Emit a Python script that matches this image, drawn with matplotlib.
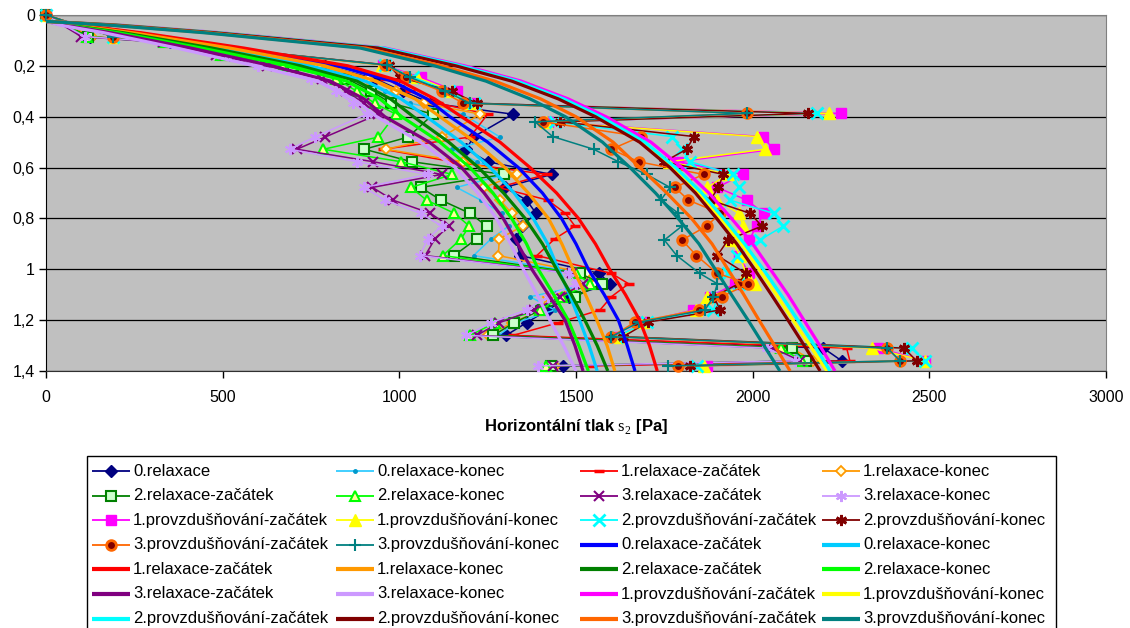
import matplotlib
matplotlib.use("Agg")
import matplotlib.pyplot as plt
from matplotlib.patches import Rectangle
from matplotlib.ticker import FuncFormatter, MultipleLocator

plt.rcParams['font.family'] = ['Liberation Sans', 'DejaVu Sans']
plt.rcParams['mathtext.fontset'] = 'custom'
plt.rcParams['mathtext.rm'] = 'Liberation Serif'

# ---- measured data (depth in m, pressure in Pa) ----
depth_relax = [0, 0.085, 0.108, 0.157, 0.2, 0.25, 0.3, 0.347, 0.39, 0.48, 0.528, 0.577, 0.627, 0.678,
               0.728, 0.78, 0.83, 0.88, 0.946, 1.016, 1.057, 1.108, 1.16, 1.21, 1.26, 1.31, 1.36, 1.38]
rel0 = [0, 125, 350, 520, 790, 930, 1010, 1090, 1321, 1209, 1190, 1250, 1431, 1299,
        1360, 1387, 1346, 1330, 1342, 1566, 1596, 1480, 1420, 1360, 1302, 2200, 2252, 1462]
rel0_konec = [0, 110, 340, 510, 730, 880, 960, 1030, 1180, 1285, 1150, 1220, 1300, 1162,
              1230, 1290, 1310, 1260, 1210, 1520, 1540, 1370, 1440, 1330, 1280, 2100, 2150, 1440]
rel1_zac = [0, 190, 360, 530, 820, 960, 1030, 1110, 1250, 1200, 955, 1150, 1417, 1280,
            1420, 1470, 1497, 1440, 1389, 1600, 1649, 1600, 1568, 1450, 1322, 2266, 2275, 1545]
rel1_konec = [0, 130, 345, 510, 770, 910, 990, 1070, 1229, 1120, 961, 1180, 1332, 1240,
              1285, 1318, 1349, 1283, 1280, 1530, 1555, 1420, 1400, 1320, 1250, 2110, 2171, 1440]
rel2_zac = [0, 120, 340, 500, 700, 850, 921, 977, 1096, 1025, 901, 1035, 1296, 1060,
            1118, 1200, 1247, 1219, 1155, 1511, 1573, 1497, 1400, 1325, 1266, 2111, 2150, 1430]
rel2_konec = [0, 115, 335, 495, 670, 820, 880, 930, 990, 941, 785, 1005, 1150, 1033,
              1077, 1156, 1198, 1175, 1123, 1500, 1540, 1460, 1398, 1271, 1200, 2080, 2140, 1414]
rel3_zac = [0, 100, 330, 480, 625, 780, 850, 900, 941, 790, 710, 926, 1120, 924,
            982, 1088, 1141, 1101, 1073, 1490, 1520, 1455, 1380, 1283, 1219, 2058, 2134, 1435]
rel3_konec = [0, 110, 351, 521, 600, 750, 820, 870, 908, 760, 690, 880, 1080, 900,
              960, 1060, 1120, 1080, 1059, 1480, 1500, 1420, 1360, 1260, 1190, 2040, 2120, 1393]

depth_prov = [0, 0.085, 0.197, 0.245, 0.3, 0.347, 0.387, 0.42, 0.478, 0.528, 0.577, 0.627, 0.678, 0.728,
              0.78, 0.83, 0.885, 0.946, 1.016, 1.057, 1.108, 1.16, 1.208, 1.265, 1.31, 1.36, 1.38]
prov1_zac = [0, 190, 955, 1060, 1162, 1200, 2249, 1422, 2028, 2059, 1790, 1972, 1900, 1983,
             2032, 2011, 1990, 1960, 1990, 1950, 1879, 1832, 1690, 1620, 2356, 2488, 1870]
prov1_konec = [0, 190, 950, 1049, 1150, 1200, 2217, 1415, 2011, 2035, 1764, 1930, 1872, 1900,
               1960, 1974, 1940, 1964, 1980, 2007, 1870, 1840, 1690, 1625, 2337, 2488, 1862]
prov2_zac = [0, 190, 960, 1040, 1140, 1210, 2181, 1440, 1771, 1800, 1823, 1945, 1960, 1936,
             2059, 2087, 2020, 1955, 1931, 1960, 1900, 1889, 1700, 1615, 2450, 2488, 1842]
prov2_konec = [0, 190, 970, 1002, 1148, 1219, 2158, 1455, 1834, 1813, 1750, 1917, 1903, 1880,
               1993, 2026, 1930, 1900, 1980, 1960, 1890, 1908, 1703, 1634, 2428, 2464, 1823]
prov3_zac = [0, 190, 960, 1020, 1120, 1181, 1983, 1407, 1683, 1600, 1677, 1861, 1780, 1818,
             1908, 1870, 1800, 1841, 1900, 1988, 1912, 1848, 1667, 1600, 2381, 2417, 1788]
prov3_konec = [0, 190, 965, 1030, 1130, 1200, 1983, 1384, 1434, 1550, 1620, 1700, 1766, 1740,
               1790, 1800, 1750, 1785, 1850, 1900, 1889, 1865, 1679, 1600, 2381, 2417, 1761]

# ---- fitted curves ----
depth_fit = [0.025, 0.04, 0.07, 0.13, 0.2, 0.26, 0.33, 0.4, 0.5, 0.6, 0.7, 0.8, 0.9, 1.0, 1.1, 1.2, 1.3, 1.4]
fit_rel0_zac = [0, 88, 258, 540, 825, 980, 1078, 1143, 1250, 1337, 1405, 1459, 1500, 1535, 1580, 1620, 1645, 1667]
fit_rel0_konec = [0, 70, 230, 490, 750, 905, 1005, 1077, 1175, 1257, 1325, 1379, 1420, 1450, 1482, 1510, 1537, 1560]
fit_rel1_zac = [0, 95, 270, 560, 855, 1003, 1100, 1176, 1285, 1370, 1445, 1507, 1555, 1595, 1640, 1680, 1708, 1730]
fit_rel1_konec = [0, 80, 245, 520, 790, 935, 1045, 1115, 1215, 1299, 1365, 1422, 1460, 1492, 1527, 1559, 1588, 1610]
fit_rel2_zac = [0, 65, 220, 470, 720, 880, 975, 1040, 1140, 1224, 1295, 1356, 1405, 1445, 1487, 1525, 1560, 1590]
fit_rel2_konec = [0, 60, 205, 440, 690, 850, 945, 1007, 1115, 1200, 1265, 1318, 1360, 1393, 1437, 1478, 1508, 1535]
fit_rel3_zac = [0, 50, 185, 410, 640, 805, 900, 959, 1085, 1176, 1240, 1294, 1335, 1375, 1422, 1469, 1497, 1520]
fit_rel3_konec = [0, 40, 165, 370, 590, 770, 870, 936, 1060, 1158, 1222, 1275, 1315, 1351, 1390, 1426, 1465, 1500]
fit_prov1_zac = [0, 210, 495, 960, 1185, 1345, 1478, 1585, 1712, 1800, 1876, 1940, 2000, 2050, 2100, 2145, 2190, 2233]
fit_prov1_konec = [0, 203, 485, 948, 1168, 1326, 1458, 1562, 1688, 1775, 1848, 1910, 1968, 2018, 2067, 2114, 2162, 2210]
fit_prov2_zac = [0, 205, 490, 955, 1175, 1333, 1465, 1570, 1695, 1782, 1856, 1918, 1977, 2030, 2080, 2128, 2175, 2219]
fit_prov2_konec = [0, 200, 480, 940, 1160, 1318, 1450, 1555, 1680, 1766, 1838, 1898, 1955, 2005, 2053, 2100, 2146, 2191]
fit_prov3_zac = [0, 185, 460, 905, 1120, 1270, 1400, 1500, 1605, 1681, 1757, 1827, 1885, 1930, 1975, 2018, 2062, 2106]
fit_prov3_konec = [0, 180, 450, 890, 1100, 1245, 1370, 1470, 1575, 1653, 1725, 1789, 1848, 1894, 1940, 1987, 2032, 2077]

measured = [
    ('0.relaxace', depth_relax, rel0, dict(color='#000080', marker='D', ms=6, mfc='#000080', mec='#000080')),
    ('0.relaxace-konec', depth_relax, rel0_konec, dict(color='#33CCFF', marker='o', ms=2.5, mfc='#0099CC', mec='#0099CC')),
    ('1.relaxace-začátek', depth_relax, rel1_zac, dict(color='#FF0000', marker='_', ms=7, mew=2.5, mec='#FF0000')),
    ('1.relaxace-konec', depth_relax, rel1_konec, dict(color='#FF9900', marker='D', ms=5.5, mfc='#FFFFE0', mec='#FF9900', mew=1.3)),
    ('2.relaxace-začátek', depth_relax, rel2_zac, dict(color='#008000', marker='s', ms=7, mfc='#CCFFCC', mec='#008000', mew=1.5)),
    ('2.relaxace-konec', depth_relax, rel2_konec, dict(color='#00FF00', marker='^', ms=7, mfc='#FFFF99', mec='#00FF00', mew=1.5)),
    ('3.relaxace-začátek', depth_relax, rel3_zac, dict(color='#800080', marker='x', ms=7, mew=1.5, mec='#800080')),
    ('3.relaxace-konec', depth_relax, rel3_konec, dict(color='#CC99FF', marker=(6, 2, 0), ms=8, mew=1.5, mec='#CC99FF')),
    ('1.provzdušňování-začátek', depth_prov, prov1_zac, dict(color='#FF00FF', marker='s', ms=7, mfc='#FF00FF', mec='#FF00FF')),
    ('1.provzdušňování-konec', depth_prov, prov1_konec, dict(color='#FFFF00', marker='^', ms=8, mfc='#FFFF00', mec='#FFFF00')),
    ('2.provzdušňování-začátek', depth_prov, prov2_zac, dict(color='#00FFFF', marker='x', ms=8, mew=2, mec='#00FFFF')),
    ('2.provzdušňování-konec', depth_prov, prov2_konec, dict(color='#800000', marker=(6, 2, 0), ms=8, mew=2, mec='#800000')),
    ('3.provzdušňování-začátek', depth_prov, prov3_zac, dict(color='#FF6600', marker='o', ms=7, mfc='#800000', mec='#FF6600', mew=2)),
    ('3.provzdušňování-konec', depth_prov, prov3_konec, dict(color='#008080', marker='+', ms=9, mew=1.5, mec='#008080')),
]

fits = [
    ('0.relaxace-začátek', fit_rel0_zac, '#0000FF'),
    ('0.relaxace-konec', fit_rel0_konec, '#00CCFF'),
    ('1.relaxace-začátek', fit_rel1_zac, '#FF0000'),
    ('1.relaxace-konec', fit_rel1_konec, '#FF9900'),
    ('2.relaxace-začátek', fit_rel2_zac, '#008000'),
    ('2.relaxace-konec', fit_rel2_konec, '#00FF00'),
    ('3.relaxace-začátek', fit_rel3_zac, '#800080'),
    ('3.relaxace-konec', fit_rel3_konec, '#CC99FF'),
    ('1.provzdušňování-začátek', fit_prov1_zac, '#FF00FF'),
    ('1.provzdušňování-konec', fit_prov1_konec, '#FFFF00'),
    ('2.provzdušňování-začátek', fit_prov2_zac, '#00FFFF'),
    ('2.provzdušňování-konec', fit_prov2_konec, '#800000'),
    ('3.provzdušňování-začátek', fit_prov3_zac, '#FF6600'),
    ('3.provzdušňování-konec', fit_prov3_konec, '#008080'),
]

W, H = 1130, 628
fig = plt.figure(figsize=(W / 100, H / 100), dpi=100)
ax = fig.add_axes([46 / W, 1 - 371 / H, 1060 / W, 356 / H])
ax.set_facecolor('#C0C0C0')

for name, d, x, st in measured:
    ax.plot(x, d, lw=1.1, clip_on=False, zorder=3, **st)
for name, x, c in fits:
    ax.plot(x, depth_fit, color=c, lw=2.3, zorder=4, solid_capstyle='butt')

ax.set_xlim(0, 3000)
ax.set_ylim(1.4, 0)
ax.xaxis.set_major_locator(MultipleLocator(500))
ax.yaxis.set_major_locator(MultipleLocator(0.2))
ax.yaxis.set_major_formatter(FuncFormatter(lambda v, p: format(round(v, 1), 'g').replace('.', ',')))
ax.grid(axis='y', color='black', lw=0.9, zorder=1)
ax.set_axisbelow(True)
ax.tick_params(axis='x', direction='out', length=5, width=1, pad=9, labelsize=11.5)
ax.tick_params(axis='y', direction='out', length=5, width=1, pad=3, labelsize=11.5)
for s in ['top', 'right']:
    ax.spines[s].set_color('#808080')
ax.spines['left'].set_color('black')
ax.spines['bottom'].set_color('#303030')
ax.set_xlabel(r'Horizontální tlak $\mathrm{s}_{2}$ [Pa]', fontsize=12, fontweight='bold', labelpad=8)

# legend laid out like the spreadsheet one: row-wise, 4 equal columns
lax = fig.add_axes([0, 0, 1, 1])
lax.set_xlim(0, W)
lax.set_ylim(H, 0)
lax.axis('off')
lax.add_patch(Rectangle((87, 456), 969, 190, facecolor='white', edgecolor='black', lw=1, clip_on=False))
col_x = [92, 336, 580, 822]
entries = [(n, st, 1.3) for n, d, x, st in measured] + [(n, dict(color=c), 3.0) for n, x, c in fits]
for i, (label, st, lw) in enumerate(entries):
    r, c = divmod(i, 4)
    y = 471 + 24.6 * r
    x0 = col_x[c]
    lax.plot([x0, x0 + 38], [y, y], lw=lw, color=st['color'], solid_capstyle='butt')
    if 'marker' in st:
        mst = {k: v for k, v in st.items() if k != 'color'}
        lax.plot([x0 + 19], [y], ls='none', color=st['color'], **mst)
    lax.text(x0 + 41, y, label, fontsize=12, va='center', ha='left')

fig.savefig('out.png', dpi=100)
